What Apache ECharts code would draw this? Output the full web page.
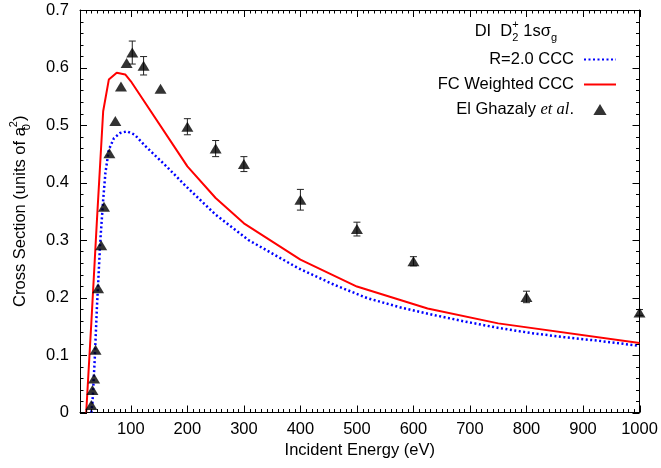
<!DOCTYPE html>
<html>
<head>
<meta charset="utf-8">
<script src="https://cdn.jsdelivr.net/npm/echarts@6/dist/echarts.min.js"></script>
<style>
html,body{margin:0;padding:0;background:#fff;}
#chart{width:661px;height:468px;}
</style>
</head>
<body>
<div id="chart"></div>
<script>
// ---- data ----
const xTickValues = [100, 200, 300, 400, 500, 600, 700, 800, 900, 1000];
const yTickValues = [0, 0.1, 0.2, 0.3, 0.4, 0.5, 0.6, 0.7];

// R=2.0 CCC (blue dotted)
const blueE = [30, 32, 36, 40, 46, 51, 55, 61, 70, 81, 93, 107, 125, 163, 198, 250, 308, 396, 460, 518, 576, 634, 692, 751, 809, 867, 925, 1000];
const blueV = [0, 0.016, 0.091, 0.184, 0.300, 0.370, 0.417, 0.457, 0.477, 0.486, 0.489, 0.483, 0.464, 0.428, 0.393, 0.344, 0.300, 0.251, 0.222, 0.199, 0.183, 0.170, 0.158, 0.147, 0.138, 0.131, 0.125, 0.116];

// FC Weighted CCC (red solid)
const redE = [21, 30, 40, 51, 61, 75, 90, 100, 200, 250, 300, 400, 500, 625, 750, 1000];
const redV = [0, 0.155, 0.335, 0.524, 0.579, 0.591, 0.588, 0.576, 0.428, 0.373, 0.329, 0.266, 0.219, 0.181, 0.155, 0.121];

// El Ghazaly et al. (triangles with error bars)
const expE = [30, 32, 35, 37.5, 42, 47.5, 52.5, 62, 72.5, 82.5, 92.5, 102.5, 122.5, 152.5, 200, 250, 300, 400, 500, 600, 800, 1000];
const expV = [0.013, 0.039, 0.059, 0.109, 0.216, 0.291, 0.358, 0.451, 0.507, 0.567, 0.608, 0.626, 0.603, 0.563, 0.497, 0.459, 0.432, 0.370, 0.319, 0.263, 0.201, 0.174];
const expErr = [0, 0, 0, 0, 0, 0, 0, 0, 0, 0, 0, 0.020, 0.016, 0, 0.014, 0.014, 0.013, 0.018, 0.012, 0.008, 0.010, 0.005];

// ---- build ----
const FONT = 'Liberation Sans';
const FS = 16.5;
const X_MIN = 10, X_MAX = 1000, Y_MIN = 0, Y_MAX = 0.7;
const MAJOR = 7, MINOR = 3.5;
const zip = (a, b) => a.map((v, i) => [v, b[i]]);

// tick positions and lengths
const xTickPos = [], xTickLen = [];
xTickValues.forEach(v => { xTickPos.push(v); xTickLen.push(MAJOR); });
for (let v = 20; v < X_MAX; v += 10) if (v % 100 !== 0) { xTickPos.push(v); xTickLen.push(MINOR); }
const yTickPos = [], yTickLen = [];
yTickValues.forEach(v => { yTickPos.push(v); yTickLen.push(MAJOR); });
for (let k = 1; k < 35; k++) if (k % 5 !== 0) { yTickPos.push(+(k * 0.02).toFixed(2)); yTickLen.push(MINOR); }

// error bars first, then tick marks, all in one custom series: [x, yLow, yHigh]
const errData = [];
expE.forEach((e, i) => { if (expErr[i] > 0) errData.push([e, expV[i] - expErr[i], expV[i] + expErr[i]]); });
const nErr = errData.length, nX = xTickPos.length;
const markData = errData
  .concat(xTickPos.map(v => [v, Y_MIN, Y_MAX]))
  .concat(yTickPos.map(v => [X_MIN, v, v]));

const chart = echarts.init(document.getElementById('chart'), null, {renderer: 'canvas'});
const axLine = {show: true, onZero: false, lineStyle: {color: '#000', width: 1}};
const option = {
  animation: false,
  backgroundColor: '#fff',
  grid: {left: 73, right: 21.5, top: 10, bottom: 55.5, show: false},
  xAxis: [{
    type: 'value', min: X_MIN, max: X_MAX, position: 'bottom',
    axisLine: axLine, splitLine: {show: false},
    name: 'Incident Energy (eV)', nameLocation: 'middle', nameGap: 27,
    nameTextStyle: {fontFamily: FONT, fontSize: FS, color: '#000'},
    axisTick: {show: false},
    axisLabel: {show: true, customValues: xTickValues, margin: 8, fontFamily: FONT, fontSize: FS, color: '#000',
      formatter: function (v) { return String(v); }}
  }, {
    type: 'value', min: X_MIN, max: X_MAX, position: 'top',
    axisLine: axLine, splitLine: {show: false}, axisTick: {show: false}, axisLabel: {show: false}
  }],
  yAxis: [{
    type: 'value', min: Y_MIN, max: Y_MAX, interval: 0.1, position: 'left',
    name: '{n|Cross Section (units of a}{s|0}{p|2}{n|)}', nameLocation: 'middle', nameGap: 48, nameRotate: 90,
    nameTextStyle: {
      fontFamily: FONT, fontSize: FS, color: '#000',
      rich: {
        n: {fontFamily: FONT, fontSize: FS, color: '#000', lineHeight: 24},
        s: {fontFamily: FONT, fontSize: 11, color: '#000', lineHeight: 11, verticalAlign: 'bottom', width: 0},
        p: {fontFamily: FONT, fontSize: 11, color: '#000', lineHeight: 11, verticalAlign: 'top'}
      }
    },
    axisLine: axLine, splitLine: {show: false},
    axisTick: {show: false},
    axisLabel: {margin: 11, fontFamily: FONT, fontSize: FS, color: '#000'}
  }, {
    type: 'value', min: Y_MIN, max: Y_MAX, interval: 0.1, position: 'right',
    axisLine: axLine, splitLine: {show: false}, axisTick: {show: false}, axisLabel: {show: false}
  }],
  legend: {
    orient: 'vertical', align: 'right', right: 44, top: 51, padding: 0,
    itemWidth: 32, itemHeight: 11, itemGap: 8,
    data: [
      {name: 'R=2.0 CCC', itemStyle: {opacity: 0}},
      {name: 'FC Weighted CCC', itemStyle: {opacity: 0}},
      {name: 'El Ghazaly et al.', icon: 'path://M0,10L6,0L12,10Z'}
    ],
    formatter: function (name) {
      if (name === 'El Ghazaly et al.') return '{a|El Ghazaly }{b|et al}{a|.}';
      return '{a|' + name + '}';
    },
    textStyle: {
      fontFamily: FONT, fontSize: FS, color: '#000', padding: [0, 5, 0, 0],
      rich: {
        a: {fontFamily: FONT, fontSize: FS, color: '#000'},
        b: {fontFamily: 'Liberation Serif', fontStyle: 'italic', fontSize: FS, color: '#000'}
      }
    }
  },
  graphic: [{
    type: 'text', right: 104, top: 19, z: 100,
    style: {
      text: '{n|DI  D}{s|2}{p|+}{n| 1sσ}{g|g}',
      fill: '#000',
      rich: {
        n: {fontFamily: FONT, fontSize: FS, fill: '#000', lineHeight: 24},
        s: {fontFamily: FONT, fontSize: 11, fill: '#000', lineHeight: 11, verticalAlign: 'bottom', width: 0},
        p: {fontFamily: FONT, fontSize: 11, fill: '#000', lineHeight: 11, verticalAlign: 'top'},
        g: {fontFamily: FONT, fontSize: 11, fill: '#000', lineHeight: 11, verticalAlign: 'bottom'}
      }
    }
  }],
  series: [
    {
      name: 'R=2.0 CCC', type: 'line', data: zip(blueE, blueV), showSymbol: false, symbol: 'none',
      color: '#0000ff', lineStyle: {color: '#0000ff', width: 2.5, type: [2, 2.5]}, z: 2
    },
    {
      name: 'FC Weighted CCC', type: 'line', data: zip(redE, redV), showSymbol: false, symbol: 'none',
      color: '#ff0000', lineStyle: {color: '#ff0000', width: 2}, z: 3
    },
    {
      name: 'El Ghazaly et al.', type: 'scatter', data: zip(expE, expV), symbol: 'triangle', symbolSize: [12, 10],
      color: '#000', itemStyle: {color: '#000'}, z: 5, clip: false
    },
    {
      name: 'errbars', type: 'custom', data: markData, z: 4, silent: true,
      encode: {x: 0, y: [1, 2]},
      renderItem: function (params, api) {
        const idx = params.dataIndex;
        const x = api.value(0), lo = api.value(1), hi = api.value(2);
        if (idx < nErr) {
          const p1 = api.coord([x, lo]), p2 = api.coord([x, hi]);
          const c = 3.5;
          const st = {stroke: '#222', lineWidth: 1};
          return {type: 'group', children: [
            {type: 'line', shape: {x1: p1[0], y1: p1[1], x2: p2[0], y2: p2[1]}, style: st},
            {type: 'line', shape: {x1: p1[0] - c, y1: p1[1], x2: p1[0] + c, y2: p1[1]}, style: st},
            {type: 'line', shape: {x1: p2[0] - c, y1: p2[1], x2: p2[0] + c, y2: p2[1]}, style: st}
          ]};
        }
        if (idx < nErr + nX) {
          const L = xTickLen[idx - nErr];
          const b = api.coord([x, Y_MIN]), t = api.coord([x, Y_MAX]);
          const px = Math.round(b[0]);
          return {type: 'group', children: [
            {type: 'rect', shape: {x: px, y: b[1] - L, width: 1, height: L}, style: {fill: '#000'}},
            {type: 'rect', shape: {x: px, y: t[1], width: 1, height: L}, style: {fill: '#000'}}
          ]};
        }
        const L = yTickLen[idx - nErr - nX];
        const l = api.coord([X_MIN, lo]), r = api.coord([X_MAX, lo]);
        const py = Math.round(l[1]);
        return {type: 'group', children: [
          {type: 'rect', shape: {x: l[0], y: py, width: L, height: 1}, style: {fill: '#000'}},
          {type: 'rect', shape: {x: r[0] - L, y: py, width: L, height: 1}, style: {fill: '#000'}}
        ]};
      }
    }
  ]
};
chart.setOption(option);
</script>
</body>
</html>
